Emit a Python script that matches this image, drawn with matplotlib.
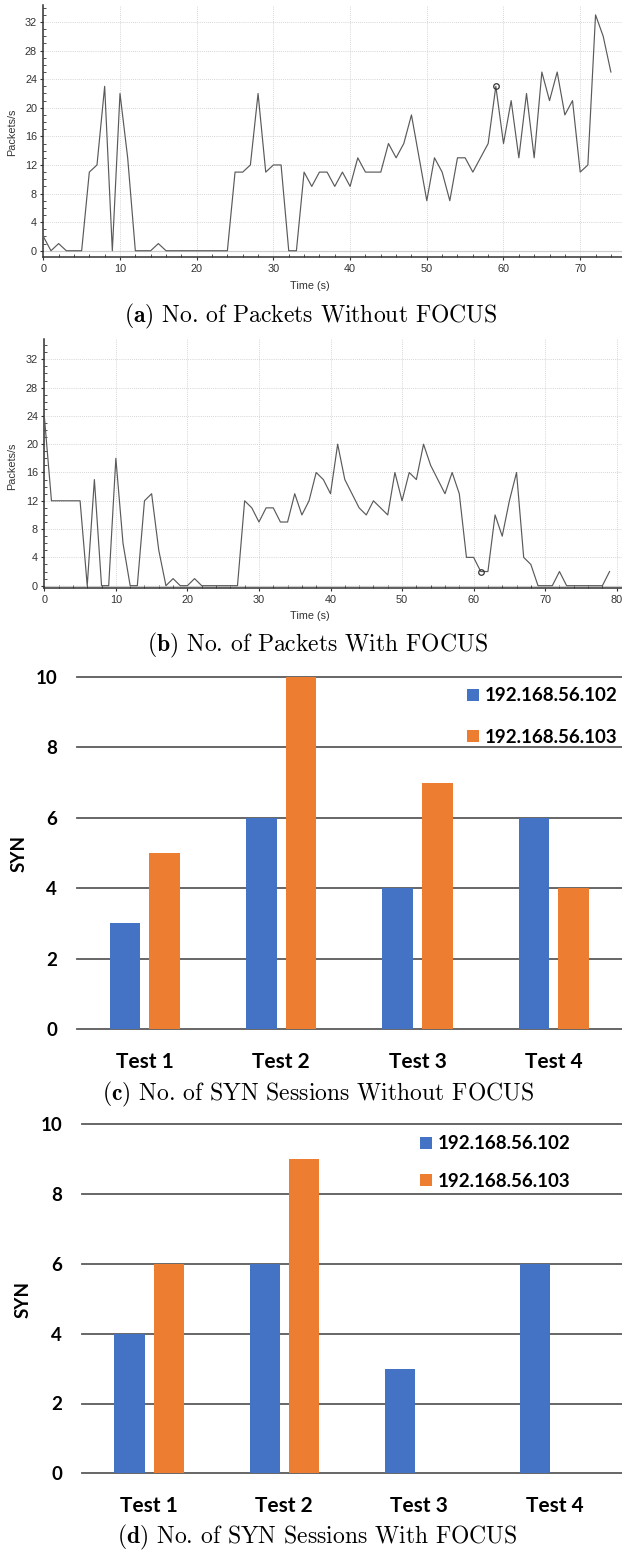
import matplotlib
matplotlib.use("Agg")
import matplotlib.pyplot as plt
from matplotlib.ticker import MultipleLocator

plt.rcParams["mathtext.fontset"] = "cm"

# ---- data -----------------------------------------------------------------
time_a = list(range(0, 75))
packets_a = [2, 0, 1, 0, 0, 0, 11, 12, 23, 0, 22, 13, 0, 0, 0, 1, 0, 0, 0, 0,
             0, 0, 0, 0, 0, 11, 11, 12, 22, 11, 12, 12, 0, 0, 11, 9, 11, 11, 9, 11,
             9, 13, 11, 11, 11, 15, 13, 15, 19, 13, 7, 13, 11, 7, 13, 13, 11, 13, 15, 23,
             15, 21, 13, 22, 13, 25, 21, 25, 19, 21, 11, 12, 33, 30, 25]
marker_a = 59

time_b = list(range(0, 80))
packets_b = [24, 12, 12, 12, 12, 12, 0, 15, 0, 0, 18, 6, 0, 0, 12, 13, 5, 0, 1, 0,
             0, 1, 0, 0, 0, 0, 0, 0, 12, 11, 9, 11, 11, 9, 9, 13, 10, 12, 16, 15,
             13, 20, 15, 13, 11, 10, 12, 11, 10, 16, 12, 16, 15, 20, 17, 15, 13, 16, 13, 4,
             4, 2, 2, 10, 7, 12, 16, 4, 3, 0, 0, 0, 2, 0, 0, 0, 0, 0, 0, 2]
marker_b = 61

tests = ["Test 1", "Test 2", "Test 3", "Test 4"]
hosts = ["192.168.56.102", "192.168.56.103"]
syn_without_102 = [3, 6, 4, 6]
syn_without_103 = [5, 10, 7, 4]
syn_with_102 = [4, 6, 3, 6]
syn_with_103 = [6, 9, 0, 0]

captions = [r"$\mathbf{(a)}$ No. of Packets Without FOCUS",
            r"$\mathbf{(b)}$ No. of Packets With FOCUS",
            r"$\mathbf{(c)}$ No. of SYN Sessions Without FOCUS",
            r"$\mathbf{(d)}$ No. of SYN Sessions With FOCUS"]

BLUE = "#4472C4"
ORANGE = "#ED7D31"

FIG_W, FIG_H = 622, 1551
fig = plt.figure(figsize=(FIG_W / 100, FIG_H / 100), dpi=100)


def px_axes(left, top, right, bottom):
    return fig.add_axes([left / FIG_W, 1 - bottom / FIG_H,
                         (right - left) / FIG_W, (bottom - top) / FIG_H])


def label_px(ax, axis, x, y):
    # place axis label using figure pixel coordinates
    inv = ax.transAxes.inverted()
    fx, fy = inv.transform(fig.transFigure.transform((x / FIG_W, 1 - y / FIG_H)))
    if axis == "x":
        ax.xaxis.set_label_coords(fx, fy)
    else:
        ax.yaxis.set_label_coords(fx, fy)


def packets_plot(ax, t, vals, mark, xmax, ymin, ymax, xlabel_xy, ylabel_xy):
    ax.plot(t, vals, color="#5a5a5a", lw=0.85, zorder=3)
    ax.plot([t[mark]], [vals[mark]], "o", mfc="none", mec="#333333", ms=4, mew=0.9, zorder=4)
    ax.axhline(0, color="#d0d0d0", lw=0.9, zorder=1)
    ax.set_xlim(0, xmax)
    ax.set_ylim(ymin, ymax)
    ax.xaxis.set_major_locator(MultipleLocator(10))
    ax.xaxis.set_minor_locator(MultipleLocator(2))
    ax.yaxis.set_major_locator(MultipleLocator(4))
    ax.yaxis.set_minor_locator(MultipleLocator(1))
    ax.set_yticks(range(0, 33, 4))
    ax.grid(True, which="major", ls=(0, (1, 1.5)), color="#c8c8c8", lw=0.6)
    for s in ["top", "right"]:
        ax.spines[s].set_visible(False)
    for s in ["left", "bottom"]:
        ax.spines[s].set_color("#333333")
        ax.spines[s].set_linewidth(1.1)
    ax.tick_params(which="major", direction="out", length=2.5, width=0.8, color="#333333",
                   labelsize=7.8, labelcolor="#333333", pad=2)
    ax.tick_params(which="minor", direction="in", length=2, width=0.6, color="#333333")
    for lbl in ax.get_xticklabels() + ax.get_yticklabels():
        lbl.set_fontfamily("Liberation Sans")
    ax.set_xlabel("Time (s)", fontsize=7.8, color="#333333", family="Liberation Sans")
    ax.set_ylabel("Packets/s", fontsize=7.8, color="#333333", family="Liberation Sans")
    label_px(ax, "x", *xlabel_xy)
    label_px(ax, "y", *ylabel_xy)


ax_a = px_axes(43.3, 5, 622, 257.3)
packets_plot(ax_a, time_a, packets_a, marker_a, 75.45, -0.92, 34.38, (310, 281), (17.5, 132))

ax_b = px_axes(44.3, 339, 622, 588.3)
packets_plot(ax_b, time_b, packets_b, marker_b, 80.74, -0.37, 34.87, (310, 611), (17.5, 466))


def syn_plot(ax, v102, v103, legend_xy, spacing, label_xy):
    x = list(range(len(tests)))
    for yv in range(0, 11, 2):
        ax.axhline(yv, color="#5a5a5a", lw=1.3, zorder=0, clip_on=False)
    b1 = ax.bar([i - 0.145 for i in x], v102, width=0.225, color=BLUE, zorder=2, label=hosts[0])
    b2 = ax.bar([i + 0.145 for i in x], v103, width=0.225, color=ORANGE, zorder=2, label=hosts[1])
    ax.set_xlim(-0.5, 3.5)
    ax.set_ylim(0, 10)
    ax.set_yticks(range(0, 11, 2))
    ax.set_xticks(x)
    ax.set_xticklabels(tests)
    for s in ax.spines.values():
        s.set_visible(False)
    ax.tick_params(axis="x", length=0, pad=16.5, labelsize=15)
    ax.tick_params(axis="y", length=0, pad=14, labelsize=13.5)
    for lbl in ax.get_xticklabels() + ax.get_yticklabels():
        lbl.set_fontfamily("Lato")
        lbl.set_fontweight("bold")
    ax.set_ylabel("SYN", fontsize=13.5, fontweight="bold", family="Lato")
    label_px(ax, "y", *label_xy)
    lx, ly = legend_xy
    ax.legend(handles=[b1, b2], loc="upper left",
              bbox_to_anchor=(lx / FIG_W, 1 - ly / FIG_H), bbox_transform=fig.transFigure,
              frameon=False, borderpad=0, handlelength=0.6, handleheight=0.6,
              handletextpad=0.35, labelspacing=spacing,
              prop={"family": "Lato", "weight": "bold", "size": 13.5})


ax_c = px_axes(76.7, 677, 622, 1029)
syn_plot(ax_c, syn_without_102, syn_without_103, (458, 678), 1.3, (28, 853))

ax_d = px_axes(81.7, 1124.3, 622, 1473.3)
syn_plot(ax_d, syn_with_102, syn_with_103, (411, 1126), 1.08, (32, 1299))

# ---- sub-captions -----------------------------------------------------------
for text, (cx, cy) in zip(captions, [(311, 316), (317, 645), (318, 1094), (317, 1537)]):
    fig.text(cx / FIG_W, 1 - cy / FIG_H, text, ha="center", va="center",
             fontsize=17, family="cmr10")

fig.savefig("out.png", dpi=100)
